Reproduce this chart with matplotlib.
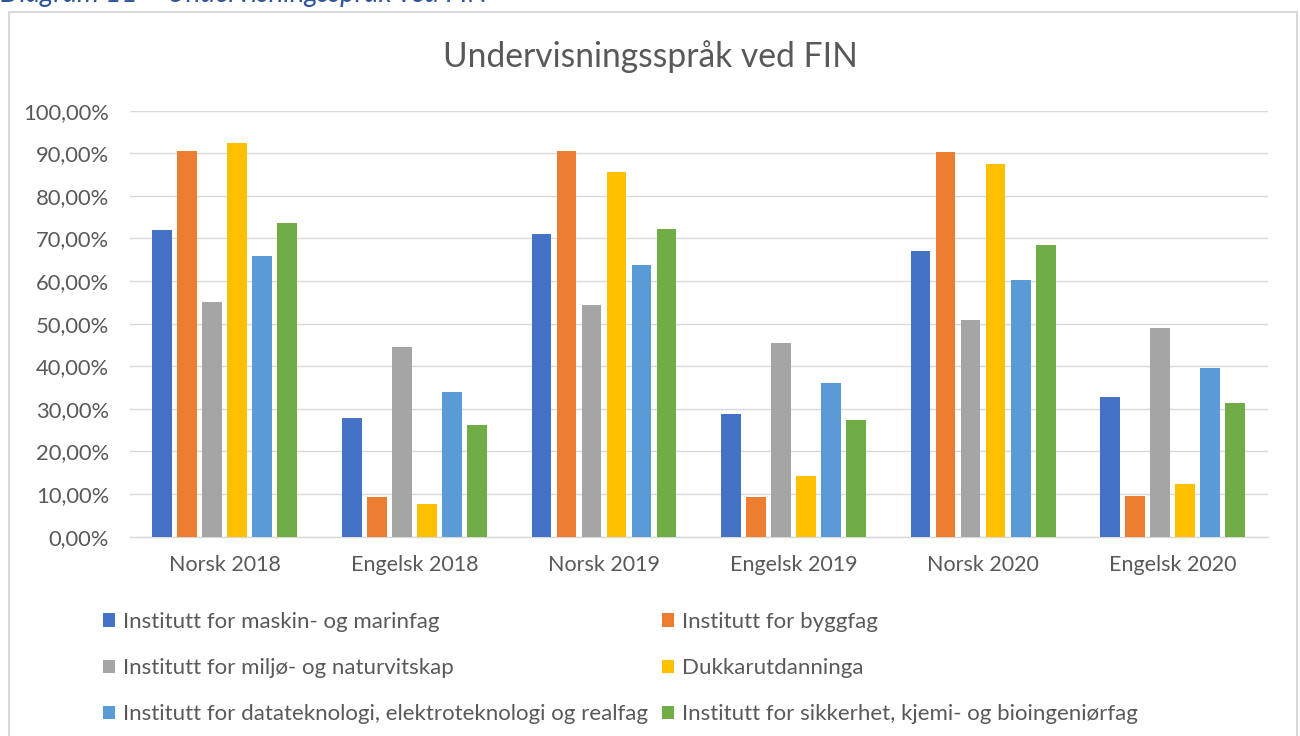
import matplotlib.pyplot as plt
import numpy as np
from matplotlib.patches import Rectangle, Patch
from matplotlib.ticker import FuncFormatter

plt.rcParams['font.family'] = ['Lato', 'DejaVu Sans']

# Data (share of courses taught in each language)
categories = ['Norsk 2018', 'Engelsk 2018', 'Norsk 2019', 'Engelsk 2019', 'Norsk 2020', 'Engelsk 2020']
series_names = [
    'Institutt for maskin- og marinfag',
    'Institutt for byggfag',
    'Institutt for miljø- og naturvitskap',
    'Dukkarutdanninga',
    'Institutt for datateknologi, elektroteknologi og realfag',
    'Institutt for sikkerhet, kjemi- og bioingeniørfag',
]
maskin = [0.720, 0.278, 0.711, 0.287, 0.671, 0.328]
bygg = [0.905, 0.093, 0.906, 0.092, 0.903, 0.095]
miljo = [0.552, 0.445, 0.543, 0.455, 0.508, 0.490]
dukkar = [0.923, 0.076, 0.857, 0.142, 0.875, 0.124]
datatek = [0.659, 0.340, 0.638, 0.360, 0.603, 0.396]
sikkerhet = [0.736, 0.263, 0.723, 0.275, 0.684, 0.314]

values = [maskin, bygg, miljo, dukkar, datatek, sikkerhet]
colors = ['#4472C4', '#ED7D31', '#A5A5A5', '#FFC000', '#5B9BD5', '#70AD47']
text_color = '#595959'
grid_color = '#D9D9D9'

fig = plt.figure(figsize=(13, 7.36), dpi=100)
ax = fig.add_axes([0.1, 0.2708, 0.875, 0.5788])

x = np.arange(len(categories))
step = 0.132
for i, (vals, col) in enumerate(zip(values, colors)):
    ax.bar(x + (i - 2.5) * step, vals, width=0.104, color=col, zorder=3)

ax.set_xlim(-0.5, len(categories) - 0.5)
ax.set_ylim(0, 1.0)
ax.set_yticks(np.arange(0, 1.01, 0.1))
ax.yaxis.set_major_formatter(FuncFormatter(lambda v, p: f'{v * 100:.2f}%'.replace('.', ',')))
ax.set_xticks(x)
ax.set_xticklabels(categories)
ax.grid(axis='y', color=grid_color, linewidth=1.0, zorder=0)
for s in ['top', 'right', 'left']:
    ax.spines[s].set_visible(False)
ax.spines['bottom'].set_color(grid_color)
ax.spines['bottom'].set_linewidth(1.0)
ax.tick_params(axis='both', length=0, labelcolor=text_color)
ax.tick_params(axis='y', pad=15, labelsize=15.8)
ax.tick_params(axis='x', pad=13, labelsize=15.5)

fig.text(0.5, 1 - 57 / 736, 'Undervisningsspråk ved FIN', ha='center', va='center',
         fontsize=24.2, color=text_color)

# legend in two columns, filled row by row like the original
order = [0, 2, 4, 1, 3, 5]
handles = [Patch(facecolor=colors[k]) for k in order]
labels = [series_names[k] for k in order]
fig.legend(handles, labels, ncol=2, loc='upper left', bbox_to_anchor=(103 / 1300, 1 - 612 / 736),
           frameon=False, fontsize=16, labelcolor=text_color, handlelength=0.55, handleheight=0.55,
           handletextpad=0.36, columnspacing=0.6, labelspacing=1.18, borderpad=0, borderaxespad=0)

# chart frame and caption above it
fig.patches.append(Rectangle((9 / 1300, -0.05), 1288 / 1300, 1 - 12 / 736 + 0.05,
                             transform=fig.transFigure, fill=False, edgecolor=grid_color, linewidth=1.5))
fig.text(0.0, 1 - 2 / 736, 'Diagram 11 – Undervisningsspråk ved FIN', ha='left', va='baseline',
         fontsize=20, style='italic', color='#2F5597')

fig.savefig('out.png', dpi=100)
